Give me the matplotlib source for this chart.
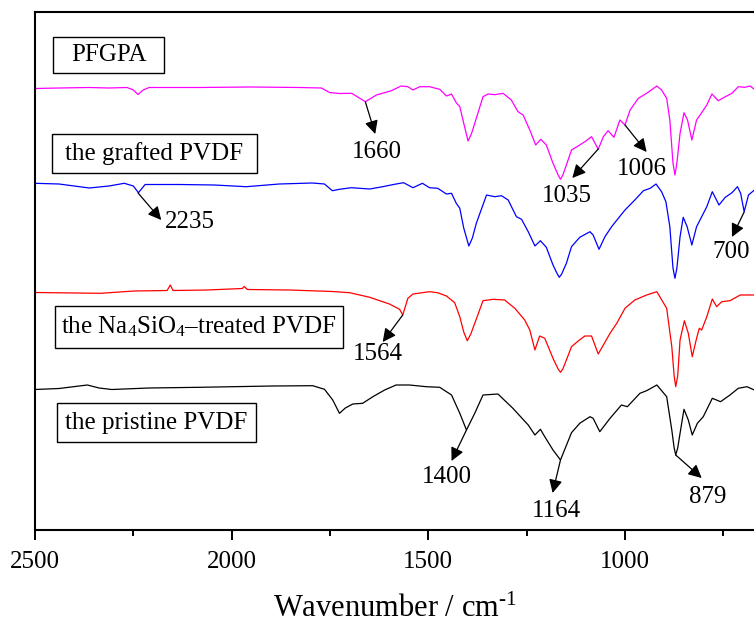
import matplotlib
matplotlib.use("Agg")
import matplotlib.pyplot as plt
from matplotlib.patches import Rectangle
import numpy as np

plt.rcParams['font.family'] = ['Liberation Serif', 'DejaVu Serif']
plt.rcParams['mathtext.fontset'] = 'custom'
plt.rcParams['mathtext.rm'] = 'Liberation Serif'
plt.rcParams['mathtext.default'] = 'regular'

### DATA (wavenumber / cm-1, stacked transmittance in a.u.) ==================
pfgpa_wn = [2500, 2439, 2362, 2312, 2266, 2250, 2238, 2225, 2210, 2082, 1955, 1828,
            1772, 1751, 1726, 1695, 1660, 1632, 1594, 1569, 1552, 1539, 1522, 1497,
            1471, 1454, 1441, 1429, 1420, 1412, 1399, 1390, 1382, 1361, 1348, 1331, 1310, 1289,
            1272, 1259, 1242, 1227, 1214, 1200, 1183, 1170, 1164, 1158, 1149, 1136, 1115, 1102,
            1085, 1068, 1055, 1043, 1028, 1013, 1000, 987, 966, 945, 919, 907, 894,
            886, 878, 873, 868, 860, 850, 841, 830, 818, 805, 792, 779, 763, 745, 728, 712,
            695, 682, 671]
pfgpa_t = [419.5, 420, 420.5, 420, 420.5, 418, 413.5, 418, 420.5, 420.5, 421, 420.5,
           420, 415.5, 414.5, 414.7, 406.3, 413, 417.3, 422, 421.3, 418, 421.3, 421.3,
           418.7, 412, 414, 405.3, 401.3, 388, 367, 374.7, 384.7, 411.3, 414, 413.3, 414.7, 408,
           396.3, 393, 378, 363, 368.7, 363, 344.7, 333, 328.7, 333, 343, 358, 363, 366.3,
           371.3, 358.7, 371.3, 377.3, 370.7, 388, 383, 398, 409.7, 414.7, 422, 418, 409.7,
           388, 345, 333, 345, 374.7, 395.3, 388, 368, 388, 395.3, 403, 414, 407.3, 411.3, 414.7, 421.3,
           420.7, 422, 418.7]

grafted_wn = [2500, 2439, 2362, 2312, 2273, 2250, 2237, 2220, 2133, 2044, 1963, 1879,
              1795, 1764, 1744, 1726, 1696, 1649, 1616, 1586, 1563, 1539, 1515, 1497,
              1476, 1454, 1441, 1429, 1420, 1410, 1397, 1388, 1378, 1352, 1331, 1314, 1297, 1276,
              1263, 1246, 1229, 1215, 1200, 1183, 1172, 1167, 1161, 1149, 1136, 1115, 1089, 1081,
              1066, 1051, 1034, 1017, 1000, 975, 953, 936, 921, 907, 896, 886, 878, 873, 868,
              860, 852, 842, 830, 818, 805, 792, 778, 761, 745, 728, 714, 706, 697,
              686, 671]
grafted_t = [324.7, 324, 320, 322, 324.7, 322, 315.3, 323.5, 323.5, 323, 321.3, 324,
             325, 324, 317.3, 318.7, 320.3, 319, 321.3, 323.7, 325.3, 320.3, 324.7, 320.3,
             319.7, 314, 314.7, 304.7, 299.7, 280, 262, 270, 284.7, 313, 311.3, 312.3, 308, 291.3,
             288.7, 276.3, 262, 267.3, 260.7, 243, 234, 230.7, 234, 244.7, 261.3, 270.7, 276.3, 273,
             258.7, 271.3, 281.3, 289.7, 298, 308, 317.3, 319.7, 324, 316.3, 306.3, 281.3, 240, 229.7, 240,
             271.3, 290.7, 281.3, 263, 281.3, 291.3, 301.3, 316.3, 303, 310.7, 315.3, 321.3, 314.7, 296.3,
             313, 318]

treated_wn = [2500, 2333, 2248, 2164, 2156, 2149, 2062, 1973, 1968, 1960, 1853, 1744,
              1700, 1649, 1599, 1573, 1565, 1552, 1539, 1497, 1476, 1454, 1433, 1420,
              1410, 1401, 1392, 1382, 1361, 1335, 1306, 1280, 1255, 1242, 1229, 1217, 1204, 1183,
              1170, 1164, 1158, 1149, 1136, 1119, 1102, 1085, 1068, 1055, 1038, 1021, 1000, 975,
              945, 919, 904, 894, 881, 875, 871, 866, 860, 849, 839, 829, 818, 811, 805, 792,
              778, 767, 754, 733, 707, 673]
treated_t = [215.5, 214.7, 217, 217.5, 223, 217.5, 218, 219.5, 221.5, 218.5, 218, 216.5,
             215.3, 210.7, 204, 198.7, 193, 209.7, 214, 216.3, 215.3, 212, 205.3, 191.3,
             176, 167.3, 174, 184.7, 207.3, 208.7, 208, 199.7, 188, 178, 158, 172, 169.7, 149.7,
             139, 135.7, 139, 148, 161.3, 167, 172, 172, 154, 163, 174.7, 184.7, 199.7, 208,
             213, 216.3, 206.3, 199.7, 161.3, 132, 121.3, 132, 168, 187.3, 174.7, 151.3, 169.7, 179.7, 178, 191.3,
             209, 201.3, 206.3, 207.3, 213, 213]

pristine_wn = [2500, 2439, 2367, 2337, 2305, 2210, 2082, 1896, 1794, 1764, 1743, 1726,
               1711, 1692, 1667, 1641, 1611, 1582, 1548, 1505, 1471, 1441, 1420, 1403,
               1382, 1361, 1323, 1285, 1246, 1229, 1215, 1204, 1183, 1164, 1136, 1115,
               1089, 1081, 1064, 1038, 1009, 994, 962, 945, 919, 894, 881, 875, 871, 866, 860,
               850, 839, 829, 816, 801, 778, 757, 733, 712, 690, 671]
pristine_t = [118.5, 119.5, 123, 120, 118.5, 120, 120.7, 122, 122.3, 118.7, 108, 94.7,
              100, 104, 104.7, 111.3, 118, 123, 123, 121.3, 120.7, 113, 94.7, 78,
              94.7, 113, 114, 99.7, 83, 73, 78.7, 71.3, 58, 48, 75.3, 84.7,
              91.3, 89.7, 76.3, 89.7, 103, 101.3, 114.7, 117.3, 123, 111.3, 78, 60, 53, 60, 74.7,
              98.7, 88, 73, 84.7, 91.3, 109.7, 106.3, 113, 119.7, 121.3, 118]

labels = ['PFGPA', 'the grafted PVDF',
          'the Na$_4$SiO$_4$\u2013treated PVDF', 'the pristine PVDF']
colors = ['#ff00ff', '#0000ff', '#ff0000', '#000000']
peak_labels = ['1660', '1035', '1006', '2235', '700', '1564', '1400', '1164', '879']

### LAYOUT (data coords) =====================================================
# label boxes: (x_left, x_right, y_bottom, y_top)
boxes = [(2453, 2173, 435, 471), (2458, 1936, 335, 374),
         (2450, 1718, 160, 202), (2445, 1939, 66, 105)]
# arrows: tail on curve, head, text position
arrows = [((1660, 406), (1635, 374), (1632, 356)),
          ((1068, 359), (1134, 330), (1148, 312)),
          ((1000, 383), (945, 356), (958, 339)),
          ((2238, 315), (2179, 288), (2169, 286)),
          ((697, 296), (728, 271), (730, 256)),
          ((1565, 193), (1616, 166), (1629, 154)),
          ((1403, 78), (1441, 47), (1453, 31)),
          ((1164, 48), (1184, 15), (1174, -3)),
          ((871, 53), (805, 30), (790, 11))]

fig = plt.figure(figsize=(7.54, 6.25), dpi=100)
ax = fig.add_axes([35 / 754, 1 - 530 / 625, 1 - 35 / 754, (530 - 12) / 625])

series = [(pfgpa_wn, pfgpa_t), (grafted_wn, grafted_t),
          (treated_wn, treated_t), (pristine_wn, pristine_t)]
for (wn, t), c in zip(series, colors):
    ax.plot(wn, t, color=c, lw=0.9, solid_joinstyle='round')

for (x0, x1, y0, y1), lab in zip(boxes, labels):
    ax.add_patch(Rectangle((min(x0, x1), y0), abs(x1 - x0), y1 - y0,
                           fill=False, ec='black', lw=1.0))
    ax.text((x0 + x1) / 2, (y0 + y1) / 2, lab, fontsize=18,
            ha='center', va='center')

for (tail, head, txt), lab in zip(arrows, peak_labels):
    ax.annotate('', xy=head, xytext=tail,
                arrowprops=dict(arrowstyle='-|>', color='black', lw=0.9,
                                mutation_scale=20, shrinkA=0, shrinkB=0))
    ha = 'left' if lab == '2235' else 'center'
    ax.text(txt[0], txt[1], lab, fontsize=18, ha=ha, va='center')

ax.set_xlim(2500, 672)
ax.set_ylim(-22, 496)
ax.set_xticks([2500, 2000, 1500, 1000])
ax.set_xticks([2250, 1750, 1250, 750], minor=True)
ax.set_yticks([])
ax.tick_params(axis='x', direction='out', length=7, width=1.4, labelsize=18, pad=8)
ax.tick_params(axis='x', which='minor', direction='out', length=4, width=1.4)
for s in ['left', 'top', 'bottom']:
    ax.spines[s].set_linewidth(1.5)
ax.spines['right'].set_visible(False)
ax.set_xlabel('Wavenumber / cm$^{\\text{-}1}$', fontsize=22, labelpad=16)

fig.savefig('out.png', dpi=100)
